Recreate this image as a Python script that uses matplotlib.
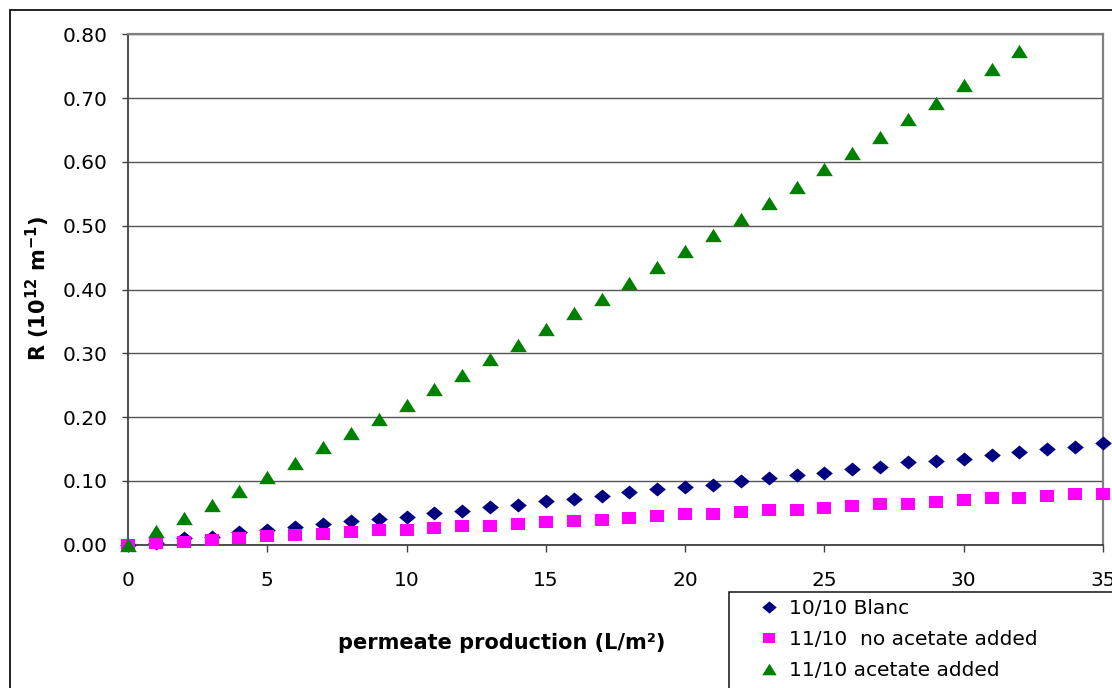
import matplotlib
matplotlib.use("Agg")
import matplotlib.pyplot as plt
from matplotlib.patches import Rectangle
from matplotlib.path import Path

plt.rcParams['font.family'] = ['DejaVu Sans']
plt.rcParams['mathtext.fontset'] = 'dejavusans'

# permeate production (L/m2) and filtration resistance R (10^12 m^-1)
x_blanc = list(range(0, 36))
r_blanc = [0.000, 0.003, 0.010, 0.013, 0.020, 0.023, 0.028, 0.032, 0.037, 0.041,
           0.044, 0.050, 0.053, 0.060, 0.063, 0.068, 0.072, 0.077, 0.082, 0.088,
           0.091, 0.094, 0.100, 0.104, 0.109, 0.113, 0.119, 0.122, 0.129, 0.132,
           0.135, 0.141, 0.145, 0.150, 0.154, 0.160]

x_no_acetate = list(range(0, 36))
r_no_acetate = [0.000, 0.003, 0.005, 0.007, 0.010, 0.014, 0.015, 0.017, 0.020, 0.023,
                0.023, 0.026, 0.029, 0.029, 0.032, 0.035, 0.038, 0.039, 0.042, 0.045,
                0.048, 0.048, 0.051, 0.054, 0.054, 0.058, 0.061, 0.064, 0.064, 0.067,
                0.070, 0.073, 0.073, 0.076, 0.079, 0.079]

x_acetate = list(range(0, 33))
r_acetate = [0.000, 0.021, 0.042, 0.062, 0.084, 0.106, 0.128, 0.153, 0.175, 0.197,
             0.219, 0.244, 0.266, 0.291, 0.313, 0.338, 0.363, 0.385, 0.411, 0.436,
             0.461, 0.486, 0.511, 0.536, 0.561, 0.589, 0.614, 0.639, 0.667, 0.692,
             0.721, 0.746, 0.774]

labels = ["10/10 Blanc", "11/10  no acetate added", "11/10 acetate added"]
x_ticks = [0, 5, 10, 15, 20, 25, 30, 35]
y_ticks = [0.0, 0.1, 0.2, 0.3, 0.4, 0.5, 0.6, 0.7, 0.8]

W, H = 1112, 688
FS = 14.5
fig = plt.figure(figsize=(W / 100, H / 100), dpi=100)

# outer chart-area frame (runs off the right and bottom edges)
fig.patches.append(Rectangle((10 / W, -0.1), 1.2, 1 - 10 / H + 0.1,
                             transform=fig.transFigure, fill=False,
                             edgecolor='#111111', linewidth=1.3, zorder=0))

ax = fig.add_axes([128 / W, (H - 544.8) / H, (1103 - 128) / W, (544.8 - 34.3) / H])

# slightly wide markers
diamond = Path([(-1, 0), (0, 0.84), (1, 0), (0, -0.84), (-1, 0)],
               [Path.MOVETO, Path.LINETO, Path.LINETO, Path.LINETO, Path.CLOSEPOLY])
square = Path([(-1, -0.82), (1, -0.82), (1, 0.82), (-1, 0.82), (-1, -0.82)],
              [Path.MOVETO, Path.LINETO, Path.LINETO, Path.LINETO, Path.CLOSEPOLY])
triangle = Path([(0, 0.8), (-1, -0.8), (1, -0.8), (0, 0.8)],
                [Path.MOVETO, Path.LINETO, Path.LINETO, Path.CLOSEPOLY])

h1, = ax.plot(x_blanc, r_blanc, linestyle='none', marker=diamond, markersize=12,
              color='#000080', markeredgewidth=0, clip_on=False, zorder=3)
h2, = ax.plot(x_no_acetate, r_no_acetate, linestyle='none', marker=square, markersize=10.3,
              color='#FF00FF', markeredgewidth=0, clip_on=False, zorder=4)
h3, = ax.plot(x_acetate, r_acetate, linestyle='none', marker=triangle, markersize=12,
              color='#008000', markeredgewidth=0, clip_on=False, zorder=5)

ax.set_xlim(0, 35)
ax.set_ylim(0, 0.8)
ax.set_xticks(x_ticks)
ax.set_xticklabels([str(v) for v in x_ticks])
ax.set_yticks(y_ticks)
ax.set_yticklabels([f"{v:.2f}" for v in y_ticks])
ax.tick_params(axis='x', direction='out', length=5, width=1, color='#404040',
               pad=14, labelsize=FS)
ax.tick_params(axis='y', direction='out', length=4.5, width=1, color='#404040',
               pad=10, labelsize=FS)

ax.yaxis.grid(True, color='#555555', linewidth=1)
ax.set_axisbelow(True)
for side in ('left', 'bottom'):
    ax.spines[side].set_color('#404040')
    ax.spines[side].set_linewidth(1.3)
for side in ('right', 'top'):
    ax.spines[side].set_color('#808080')
    ax.spines[side].set_linewidth(1.6)

fig.text(38 / W, 1 - 288 / H, r'R (10$^{\mathbf{12}}$ m$^{\mathbf{-1}}$)',
         rotation=90, ha='center', va='center', fontsize=15, fontweight='bold')
fig.text(502 / W, 1 - 643 / H, 'permeate production (L/m\u00b2)',
         ha='center', va='center', fontsize=15, fontweight='bold')

# legend box runs off the lower right corner
fig.patches.append(Rectangle((728.5 / W, -0.1), 1.0, (H - 591.5) / H + 0.1,
                             transform=fig.transFigure, fill=False,
                             edgecolor='#111111', linewidth=1.1, zorder=1))
fig.legend([h1, h2, h3], labels, loc='upper left',
           bbox_to_anchor=(761.3 / W, 1 - 599 / H), bbox_transform=fig.transFigure,
           frameon=False, fontsize=FS, handlelength=0.8, handletextpad=0.59,
           borderpad=0, borderaxespad=0, labelspacing=0.6, markerscale=0.87)

fig.savefig('out.png', dpi=100)
